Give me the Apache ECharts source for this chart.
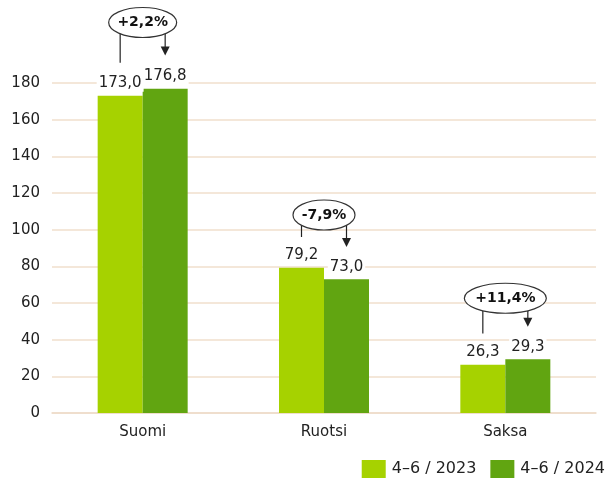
<!DOCTYPE html>
<html>
<head>
<meta charset="utf-8">
<script src="https://cdn.jsdelivr.net/npm/echarts@6/dist/echarts.min.js"></script>
<style>
  html, body { margin: 0; padding: 0; background: #fff; }
  #chart { width: 614px; height: 486px; }
</style>
</head>
<body>
<div id="chart"></div>
<script>
const countries = ['Suomi', 'Ruotsi', 'Saksa'];
const values2023 = [173.0, 79.2, 26.3];
const values2024 = [176.8, 73.0, 29.3];
const seriesNames = ['4–6 / 2023', '4–6 / 2024'];

// change annotations (value-axis heights of the oval, left stem end, arrow tip)
const changes = ['+2,2%', '-7,9%', '+11,4%'];
const noteY = [213, 108, 62.6];
const noteLeftEnd = [191, 96, 43.3];
const noteArrowEnd = [195, 90.6, 47];
const noteRx = [34, 31, 41];

const FONT = 'DejaVu Sans';
const BAR_W = 45;

const chart = echarts.init(document.getElementById('chart'));

const labelStyle = {
  show: true,
  position: 'top',
  distance: 4,
  fontFamily: FONT,
  fontSize: 15,
  color: '#222',
  backgroundColor: '#fff',
  padding: [1, 2],
  formatter: (p) => p.value.toFixed(1).replace('.', ','),
};

chart.setOption({
  animation: false,
  textStyle: { fontFamily: FONT },
  grid: { left: 52, right: 18, top: 83, bottom: 73 },
  legend: {
    right: 4,
    bottom: 3,
    icon: 'rect',
    itemWidth: 24,
    itemHeight: 18,
    itemGap: 14,
    textStyle: { fontFamily: FONT, fontSize: 16, color: '#222', padding: [0, 0, 0, 1] },
    data: seriesNames,
  },
  xAxis: {
    type: 'category',
    data: countries,
    axisLine: { lineStyle: { color: '#eddcc9', width: 1.5 } },
    axisTick: { show: false },
    axisLabel: { fontFamily: FONT, fontSize: 15, color: '#222', margin: 12 },
  },
  yAxis: {
    type: 'value',
    min: 0,
    max: 180,
    interval: 20,
    axisLabel: { fontFamily: FONT, fontSize: 15, color: '#222', margin: 12 },
    splitLine: { lineStyle: { color: '#f1dfcc', width: 1.5 } },
  },
  series: [
    {
      name: seriesNames[0],
      type: 'bar',
      data: values2023,
      barWidth: BAR_W,
      barGap: '0%',
      itemStyle: { color: '#a6d200' },
      label: labelStyle,
    },
    {
      name: seriesNames[1],
      type: 'bar',
      data: values2024,
      barWidth: BAR_W,
      barGap: '0%',
      itemStyle: { color: '#61a511' },
      label: labelStyle,
    },
  ],
});

function drawNotes() {
  const elements = [];
  countries.forEach((c, i) => {
    const [cx, cy] = chart.convertToPixel({ seriesIndex: 0 }, [i, noteY[i]]);
    const leftY = chart.convertToPixel({ seriesIndex: 0 }, [i, noteLeftEnd[i]])[1];
    const tipY = chart.convertToPixel({ seriesIndex: 0 }, [i, noteArrowEnd[i]])[1];
    const lx = cx - BAR_W / 2;
    const rx = cx + BAR_W / 2;
    elements.push({
      type: 'line', z: 10,
      shape: { x1: lx, y1: cy, x2: lx, y2: leftY },
      style: { stroke: '#222', lineWidth: 1.2 },
    });
    elements.push({
      type: 'line', z: 10,
      shape: { x1: rx, y1: cy, x2: rx, y2: tipY - 8 },
      style: { stroke: '#222', lineWidth: 1.2 },
    });
    elements.push({
      type: 'polygon', z: 10,
      shape: { points: [[rx - 4.5, tipY - 9], [rx + 4.5, tipY - 9], [rx, tipY]] },
      style: { fill: '#222' },
    });
    elements.push({
      type: 'ellipse', z: 11,
      shape: { cx: cx, cy: cy, rx: noteRx[i], ry: 15 },
      style: { fill: '#fff', stroke: '#333', lineWidth: 1.2 },
    });
    elements.push({
      type: 'text', z: 12,
      x: cx, y: cy,
      style: {
        text: changes[i],
        fontFamily: FONT,
        fontSize: 14,
        fontWeight: 'bold',
        fill: '#111',
        align: 'center',
        verticalAlign: 'middle',
      },
    });
  });
  chart.setOption({ graphic: elements });
}
drawNotes();
</script>
</body>
</html>
